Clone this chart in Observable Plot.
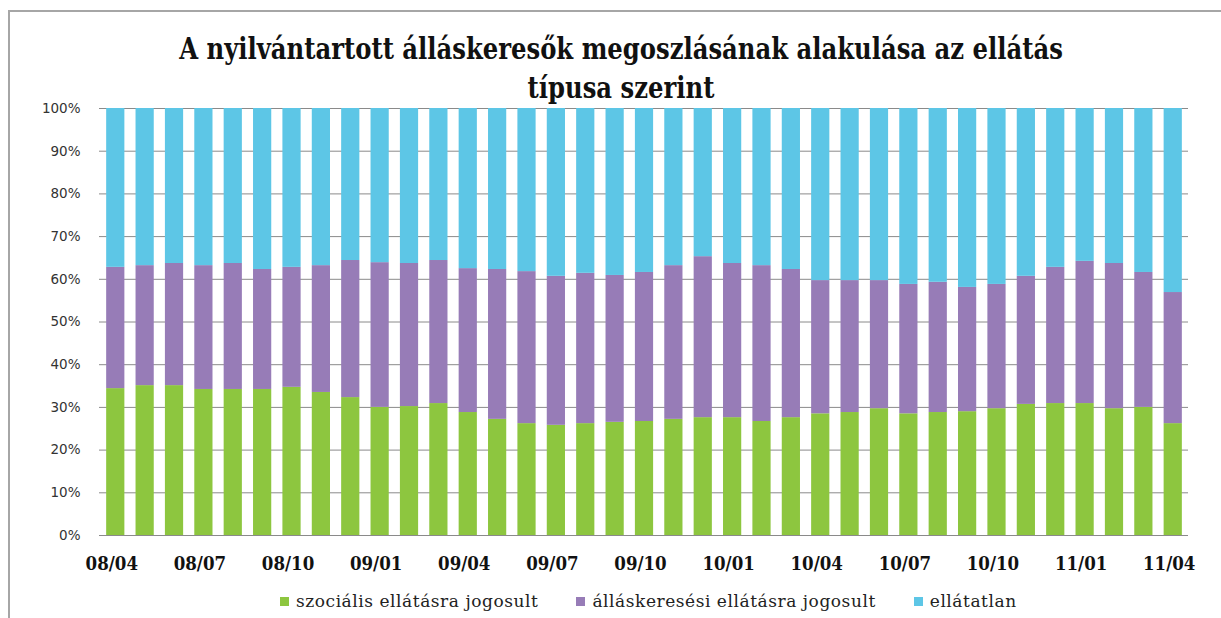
<!DOCTYPE html>
<html>
<head>
<meta charset="utf-8">
<script src="https://cdn.jsdelivr.net/npm/d3@7"></script>
<script src="https://cdn.jsdelivr.net/npm/@observablehq/plot@0.6"></script>
<style>
  html, body { margin: 0; padding: 0; background: #fff; }
  #wrap { position: relative; width: 1221px; height: 618px; overflow: hidden; background: #fff; }
  #frame { position: absolute; left: 8px; top: 10px; width: 1230px; height: 640px; border-left: 2px solid #a6a6a6; border-top: 2px solid #a6a6a6; box-sizing: border-box; }
  #title { position: absolute; left: 0; width: 1242px; top: 29px; text-align: center; font-family: "DejaVu Serif Condensed", "DejaVu Serif", serif; font-weight: bold; font-size: 27px; line-height: 35px; color: #111; transform: scaleY(1.12); transform-origin: top; }
  #chart { position: absolute; left: 0; top: 95px; }
  #legend { position: absolute; top: 591px; left: 280px; font-family: "DejaVu Serif", serif; font-size: 17px; letter-spacing: 0.55px; color: #222; display: flex; align-items: center; white-space: nowrap; }
  .item { display: flex; align-items: center; margin-right: 38px; }
  .sw { width: 9px; height: 9px; margin-right: 7px; display: inline-block; }
</style>
</head>
<body>
<div id="wrap">
  <div id="frame"></div>
  <div id="title">A nyilvántartott álláskeresők megoszlásának alakulása az ellátás<br>típusa szerint</div>
  <div id="chart"></div>
  <div id="legend"></div>
</div>
<script>
const months = ["08/04","08/05","08/06","08/07","08/08","08/09","08/10","08/11","08/12",
  "09/01","09/02","09/03","09/04","09/05","09/06","09/07","09/08","09/09","09/10","09/11","09/12",
  "10/01","10/02","10/03","10/04","10/05","10/06","10/07","10/08","10/09","10/10","10/11","10/12",
  "11/01","11/02","11/03","11/04"];
const tickLabels = ["08/04","08/07","08/10","09/01","09/04","09/07","09/10","10/01","10/04","10/07","10/10","11/01","11/04"];
const seriesNames = ["szociális ellátásra jogosult", "álláskeresési ellátásra jogosult", "ellátatlan"];
const seriesColors = ["#8dc63f", "#977cb7", "#5dc6e6"];

// percentage values
const szocialis = [34.4,35.1,35.1,34.2,34.2,34.2,34.7,33.5,32.3,30.0,30.2,30.9,28.8,27.2,26.2,25.8,26.2,26.5,26.7,27.2,27.6,27.6,26.7,27.6,28.5,28.8,29.7,28.5,28.8,29.0,29.7,30.7,30.9,30.9,29.7,30.0,26.2];
const allaskeresesi = [28.4,28.1,28.6,29.0,29.5,28.1,28.1,29.7,32.1,33.9,33.5,33.5,33.7,35.1,35.6,34.9,35.2,34.4,34.9,36.0,37.7,36.1,36.5,34.7,31.2,30.9,30.0,30.3,30.5,29.1,29.1,30.0,31.9,33.3,34.0,31.6,30.7];
const ellatatlan = [37.2,36.8,36.3,36.8,36.3,37.7,37.2,36.8,35.6,36.1,36.3,35.6,37.5,37.7,38.2,39.3,38.6,39.1,38.4,36.8,34.7,36.3,36.8,37.7,40.3,40.3,40.3,41.2,40.7,41.9,41.2,39.3,37.2,35.8,36.3,38.4,43.1];

const values = [szocialis, allaskeresesi, ellatatlan];
const data = months.flatMap((m, i) => seriesNames.map((s, k) => ({month: m, type: s, value: values[k][i]})));

const chart = Plot.plot({
  width: 1221,
  height: 490,
  marginTop: 13,
  marginBottom: 50,
  marginLeft: 95,
  marginRight: 28,
  style: {background: "transparent"},
  x: {domain: months, padding: 0.38, round: false, label: null},
  y: {domain: [0, 100], label: null},
  color: {domain: seriesNames, range: seriesColors},
  marks: [
    Plot.gridY({ticks: d3.range(10, 101, 10), stroke: "#8a8a8a", strokeOpacity: 1, strokeWidth: 1, insetLeft: 4, insetRight: 5}),
    Plot.barY(data, Plot.stackY({x: "month", y: "value", fill: "type", order: seriesNames})),
    Plot.ruleY([0], {stroke: "#8a8a8a", strokeWidth: 1.2, insetLeft: 4, insetRight: 5}),
    Plot.axisY({ticks: d3.range(0, 101, 10), tickFormat: d => d + "%", tickSize: 0, tickPadding: 15,
      fontSize: 13.5, fill: "#333", fontFamily: "DejaVu Sans, sans-serif"}),
    Plot.axisX({ticks: tickLabels, tickSize: 0, tickPadding: 21, dx: -4, fontSize: 18.5, fontWeight: "bold", fill: "#111",
      fontFamily: "'DejaVu Serif Condensed', 'DejaVu Serif', serif"})
  ]
});
document.getElementById("chart").appendChild(chart);

const legend = document.getElementById("legend");
seriesNames.forEach((s, k) => {
  const it = document.createElement("div");
  it.className = "item";
  const sw = document.createElement("span");
  sw.className = "sw";
  sw.style.background = seriesColors[k];
  const tx = document.createElement("span");
  tx.textContent = s;
  it.appendChild(sw); it.appendChild(tx);
  legend.appendChild(it);
});
</script>
</body>
</html>
